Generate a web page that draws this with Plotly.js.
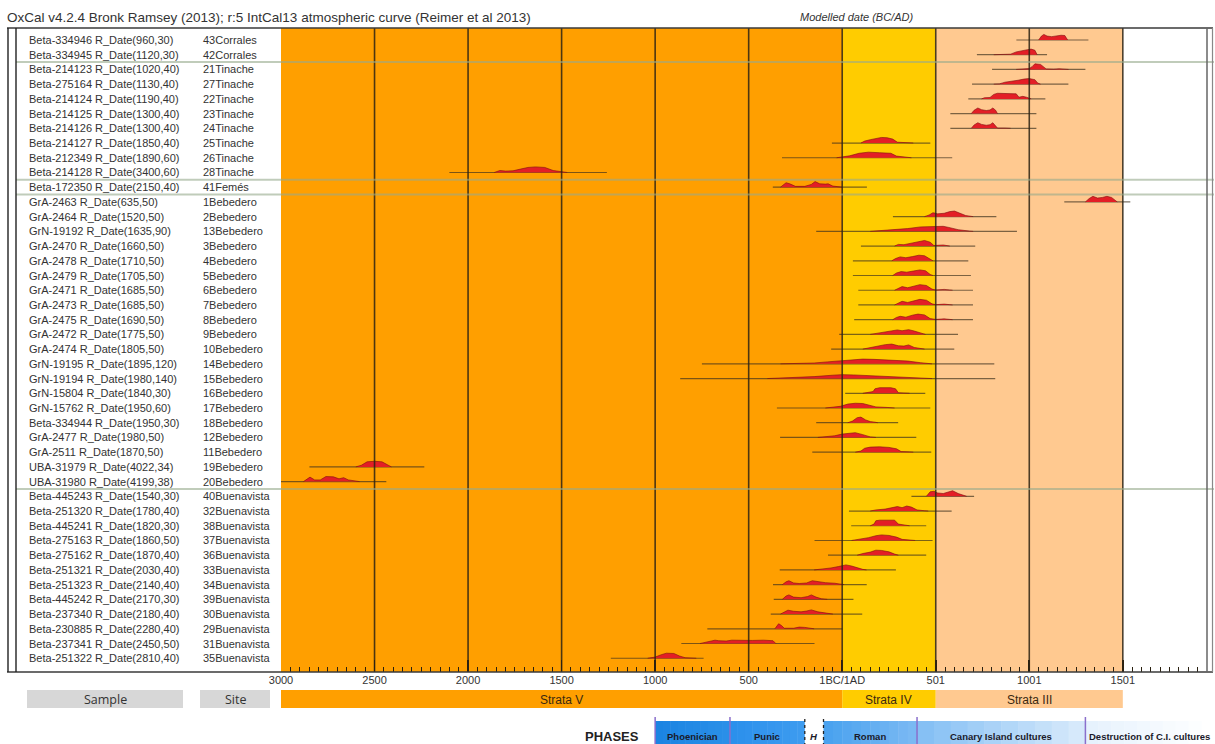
<!DOCTYPE html>
<html><head><meta charset="utf-8">
<script src="https://cdn.plot.ly/plotly-3.0.1.min.js"></script>
<style>html,body{margin:0;padding:0;background:#fff}#chart{width:1215px;height:744px}</style>
</head><body><div id="chart"></div>
<script>
// ---------------- DATA ----------------
const sampleLabels = [
"Beta-334946 R_Date(960,30)","Beta-334945 R_Date(1120,30)","Beta-214123 R_Date(1020,40)","Beta-275164 R_Date(1130,40)",
"Beta-214124 R_Date(1190,40)","Beta-214125 R_Date(1300,40)","Beta-214126 R_Date(1300,40)","Beta-214127 R_Date(1850,40)",
"Beta-212349 R_Date(1890,60)","Beta-214128 R_Date(3400,60)","Beta-172350 R_Date(2150,40)","GrA-2463 R_Date(635,50)",
"GrA-2464 R_Date(1520,50)","GrN-19192 R_Date(1635,90)","GrA-2470 R_Date(1660,50)","GrA-2478 R_Date(1710,50)",
"GrA-2479 R_Date(1705,50)","GrA-2471 R_Date(1685,50)","GrA-2473 R_Date(1685,50)","GrA-2475 R_Date(1690,50)",
"GrA-2472 R_Date(1775,50)","GrA-2474 R_Date(1805,50)","GrN-19195 R_Date(1895,120)","GrN-19194 R_Date(1980,140)",
"GrN-15804 R_Date(1840,30)","GrN-15762 R_Date(1950,60)","Beta-334944 R_Date(1950,30)","GrA-2477 R_Date(1980,50)",
"GrA-2511 R_Date(1870,50)","UBA-31979 R_Date(4022,34)","UBA-31980 R_Date(4199,38)","Beta-445243 R_Date(1540,30)",
"Beta-251320 R_Date(1780,40)","Beta-445241 R_Date(1820,30)","Beta-275163 R_Date(1860,50)","Beta-275162 R_Date(1870,40)",
"Beta-251321 R_Date(2030,40)","Beta-251323 R_Date(2140,40)","Beta-445242 R_Date(2170,30)","Beta-237340 R_Date(2180,40)",
"Beta-230885 R_Date(2280,40)","Beta-237341 R_Date(2450,50)","Beta-251322 R_Date(2810,40)"];
const siteLabels = [
"43Corrales","42Corrales","21Tinache","27Tinache","22Tinache","23Tinache","24Tinache","25Tinache","26Tinache","28Tinache",
"41Femés","1Bebedero","2Bebedero","13Bebedero","3Bebedero","4Bebedero","5Bebedero","6Bebedero","7Bebedero","8Bebedero",
"9Bebedero","10Bebedero","14Bebedero","15Bebedero","16Bebedero","17Bebedero","18Bebedero","12Bebedero","11Bebedero",
"19Bebedero","20Bebedero","40Buenavista","32Buenavista","38Buenavista","37Buenavista","36Buenavista","33Buenavista",
"34Buenavista","39Buenavista","30Buenavista","29Buenavista","31Buenavista","35Buenavista"];
// range brackets (calendar years, BC negative)
const rangeStart = [931,720,801,694,674,578,578,-55,-322,-2100,-371,1187,271,-139,100,57,57,86,86,64,-16,-59,-750,-866,16,-349,-139,-332,-160,-2848,-3040,370,36,48,-148,-76,-334,-370,-366,-382,-721,-860,-1237];
const rangeEnd   = [1316,1095,1300,1209,1086,1038,1038,471,588,-1258,132,1540,824,934,711,674,688,699,699,699,619,599,813,818,444,471,299,396,476,-2234,-2437,705,585,449,483,449,287,131,60,107,0,-148,-741];
// modelled distributions: years and relative heights
const distYears = [
[1050,1065,1078,1095,1120,1150,1170,1190,1205],
[810,850,900,930,960,990,1010,1030,1042],
[930,960,1000,1015,1030,1060,1075,1090,1130,1160,1190,1210],
[810,840,870,910,940,970,1000,1030,1045,1060],
[745,760,790,810,830,900,930,945,965,985,1000,1010],
[690,705,725,745,770,790,805,820,830],
[690,705,725,745,770,790,805,820,830,870,900],
[100,120,150,180,210,240,270,295,330,380],
[-30,0,40,90,140,200,260,290,330,370],
[-1860,-1830,-1800,-1760,-1720,-1680,-1640,-1590,-1545,-1500,-1470],
[-330,-300,-280,-250,-200,-165,-145,-120,-90,-75,-50,-10,0],
[1300,1320,1340,1365,1390,1415,1440,1460,1470],
[440,465,485,510,545,575,600,630,660,700],
[150,200,280,350,420,480,540,570,620,680,700],
[280,300,330,370,410,440,470,490,540,575],
[265,285,310,340,375,410,440,470,485],
[270,290,315,345,380,415,445,470,485],
[280,300,320,350,385,415,450,480,500,545,575,590],
[280,300,320,350,385,415,450,480,500,545,575,590],
[270,290,310,340,375,405,440,470,500,545,575,590],
[150,180,220,260,295,320,355,385,420,445],
[110,140,180,230,265,300,330,355,385,420,440],
[-330,-250,-150,-80,0,60,110,170,250,300,350,420,480],
[-400,-340,-250,-150,-50,0,60,150,250,350,450,480],
[110,140,165,175,200,260,285,300,340,360],
[-90,-50,-10,30,70,110,140,180,240,280],
[30,55,80,100,125,150,175,190],
[-130,-90,-40,0,40,70,110,150,180],
[70,100,120,150,200,250,290,315,360,380],
[-2600,-2570,-2540,-2500,-2460,-2430,-2410],
[-2880,-2845,-2820,-2790,-2760,-2720,-2690,-2665,-2640,-2600,-2580],
[450,470,490,510,540,565,590,620,650,665],
[150,180,230,270,295,320,345,370,400,440,460],
[150,170,180,200,280,300,340,360],
[50,90,140,180,210,250,290,320,370,390],
[80,110,150,180,210,250,280,300],
[-150,-100,-60,-20,20,50,80,110,130],
[-320,-300,-285,-260,-230,-190,-160,-130,-90,-40,-5,10],
[-320,-300,-285,-260,-220,-185,-165,-140,-110,-80],
[-330,-305,-290,-260,-220,-190,-165,-130,-90,-50],
[-360,-350,-340,-325,-310,-260,-230,-200,-170,-150],
[-760,-720,-680,-660,-620,-590,-540,-480,-420,-370,-355],
[-1040,-1000,-970,-940,-900,-870,-840,-800,-780]];
const distHeights = [
[0,0.7,1,0.7,0.6,0.75,0.85,0.8,0],
[0,0.08,0.1,0.5,0.75,0.9,1,0.8,0],
[0,0.12,0.15,0.5,1,0.9,0.5,0.1,0.05,0.12,0.05,0],
[0,0.05,0.35,0.5,0.7,0.9,1,0.8,0.2,0],
[0,0.2,0.25,0.8,1,1,0.9,0.3,0.45,0.3,0.05,0],
[0,0.6,1,0.7,0.55,0.65,1,0.6,0],
[0,0.6,1,0.7,0.55,0.65,1,0.5,0.05,0.05,0],
[0,0.35,0.6,0.85,1,0.95,0.7,0.15,0.05,0],
[0,0.1,0.35,0.8,1,0.9,0.8,0.3,0.1,0],
[0,0.35,0.25,0.3,0.6,0.9,1,0.9,0.35,0.1,0],
[0,0.8,0.6,0.15,0.15,0.5,1,0.6,0.55,0.6,0.2,0.05,0],
[0,0.6,1,0.7,0.8,1,0.8,0.2,0],
[0,0.3,0.7,0.5,0.6,0.9,1,0.6,0.2,0],
[0,0.1,0.3,0.5,0.8,0.85,0.9,0.7,0.3,0.05,0],
[0,0.3,0.25,0.55,0.9,1,0.7,0.1,0.2,0],
[0,0.4,0.7,0.55,0.75,1,0.9,0.2,0],
[0,0.45,0.7,0.6,0.8,1,0.85,0.2,0],
[0,0.4,0.65,0.45,0.8,1,0.85,0.2,0.05,0.15,0.05,0],
[0,0.4,0.65,0.45,0.8,1,0.85,0.2,0.05,0.15,0.05,0],
[0,0.4,0.6,0.45,0.8,1,0.85,0.2,0.05,0.15,0.05,0],
[0,0.15,0.35,0.55,0.8,0.65,0.85,0.6,0.2,0],
[0,0.2,0.55,0.8,0.9,0.6,0.55,0.75,0.3,0.1,0],
[0,0.05,0.15,0.35,0.6,0.8,0.85,0.8,0.65,0.6,0.5,0.2,0],
[0,0.08,0.15,0.35,0.6,0.7,0.65,0.5,0.35,0.15,0.05,0],
[0,0.1,0.3,0.8,1,1,0.8,0.1,0.05,0],
[0,0.1,0.3,0.7,0.85,0.8,0.5,0.2,0.1,0],
[0,0.3,0.9,1,0.5,0.2,0.1,0],
[0,0.1,0.3,0.6,0.8,0.85,0.5,0.1,0],
[0,0.2,0.7,0.9,0.95,0.85,0.6,0.1,0.05,0],
[0,0.3,0.9,1,0.9,0.3,0],
[0,0.8,0.3,0.3,0.9,0.85,0.5,0.7,0.3,0.05,0],
[0,0.8,0.9,0.6,0.5,0.8,1,0.5,0.1,0],
[0,0.2,0.35,0.6,0.8,0.6,0.9,0.7,0.2,0.05,0],
[0,0.3,0.9,1,1,0.3,0.1,0],
[0,0.2,0.5,0.85,1,0.9,0.6,0.2,0.1,0],
[0,0.3,0.55,0.9,0.85,0.6,0.2,0],
[0,0.15,0.35,0.6,0.9,0.7,0.35,0.1,0],
[0,0.5,0.7,0.3,0.2,0.3,0.7,0.5,0.35,0.25,0.05,0],
[0,0.6,0.8,0.4,0.3,0.5,0.8,0.4,0.1,0],
[0,0.5,0.7,0.5,0.4,0.55,0.75,0.4,0.15,0],
[0,0.4,0.9,0.6,0.1,0.1,0.3,0.25,0.15,0],
[0,0.3,0.6,0.5,0.45,0.6,0.55,0.55,0.6,0.5,0],
[0,0.2,0.6,0.9,0.85,0.4,0.1,0.05,0]];
const groupBreaks = [1.5, 9.5, 10.5, 30.5];
const tickYears = [-3000,-2500,-2000,-1500,-1000,-500,0,500,1000,1500];
const tickLabels = ["3000","2500","2000","1500","1000","500","1BC/1AD","501","1001","1501"];
const strataNames = ["Strata V","Strata IV","Strata III"];
const strataStart = [-3000,0,500];
const strataEnd = [0,500,1500];
const strataColors = ["#ff9f00","#ffcc00","#ffc990"];
const phaseNames = ["Phoenician","Punic","<i>H</i>","Roman","Canary Island cultures","Destruction of C.I. cultures"];
const phaseStart = [-1000,-600,-200,-100,400,1300];
const phaseEnd = [-600,-200,-100,400,1300,1990];
const phaseColorFrom = ["#1b84e2","#2b90ec","#ffffff","#4aa2ef","#86c0f4","#e6f2fd"];
const phaseColorTo   = ["#2a8fe8","#3d9bef","#ffffff","#7ab9f3","#d6e9fb","#ffffff"];

// ---------------- LAYOUT HELPERS ----------------
const W=1215,H=744,L=281,R=8,T=28,B=72;
const PW=W-L-R, PH=H-T-B;
const XR=[-3000,1950];
const YR=[42.935,-0.815];
const FONT="Liberation Sans, Arial, sans-serif";
const px=p=>(p-L)/PW;
const py=p=>(H-B-p)/PH;
const yp=yr=>(yr-XR[0])/(XR[1]-XR[0]);
const HSCALE=0.38;

const traces=[];
// range lines
const lx=[],ly=[];
rangeStart.forEach((s,i)=>{lx.push(s,rangeEnd[i],null);ly.push(i,i,null);});
traces.push({type:'scatter',mode:'lines',x:lx,y:ly,line:{color:'rgba(60,48,30,0.68)',width:1.2},hoverinfo:'skip',showlegend:false});
// distributions
distYears.forEach((xs,i)=>{
  traces.push({type:'scatter',mode:'lines',x:xs,y:distHeights[i].map(h=>i-h*HSCALE),fill:'toself',
    fillcolor:'#e31e26',line:{color:'#7d0d0d',width:0.6},hoverinfo:'skip',showlegend:false});
});

const shapes=[];
// background bands
strataStart.forEach((s,i)=>shapes.push({type:'rect',xref:'x',yref:'paper',x0:s,x1:strataEnd[i],y0:0,y1:1,fillcolor:strataColors[i],line:{width:0},layer:'below'}));
// vertical grid lines
tickYears.slice(1).forEach(t=>shapes.push({type:'line',xref:'x',yref:'paper',x0:t,x1:t,y0:0,y1:1,line:{color:'rgba(45,35,20,0.85)',width:1.6},layer:'above'}));
// group separators
groupBreaks.forEach(g=>shapes.push({type:'line',xref:'paper',yref:'y',x0:px(16),x1:px(1214),y0:g,y1:g,line:{color:'rgba(150,170,140,0.6)',width:2},layer:'above'}));
// frame
const frameCol='#3a3a3a';
shapes.push({type:'line',xref:'paper',yref:'paper',x0:px(7),x1:px(1213),y0:1,y1:1,line:{color:frameCol,width:1.6}});
shapes.push({type:'line',xref:'paper',yref:'paper',x0:px(7),x1:px(1213),y0:0,y1:0,line:{color:frameCol,width:1.6}});
[8,16].forEach(p=>shapes.push({type:'line',xref:'paper',yref:'paper',x0:px(p),x1:px(p),y0:0,y1:1,line:{color:'#222',width:1.4}}));
shapes.push({type:'line',xref:'paper',yref:'paper',x0:1,x1:1,y0:0,y1:1,line:{color:'#666',width:1.5}});
shapes.push({type:'line',xref:'paper',yref:'paper',x0:px(1212.5),x1:px(1212.5),y0:0,y1:1,line:{color:'#888',width:1.2}});
// bottom boxes
shapes.push({type:'rect',xref:'paper',yref:'paper',x0:px(27),x1:px(183),y0:py(708),y1:py(690),fillcolor:'#d7d7d7',line:{width:0}});
shapes.push({type:'rect',xref:'paper',yref:'paper',x0:px(200),x1:px(270),y0:py(708),y1:py(690),fillcolor:'#d7d7d7',line:{width:0}});
strataStart.forEach((s,i)=>shapes.push({type:'rect',xref:'paper',yref:'paper',x0:yp(s),x1:yp(strataEnd[i]),y0:py(708),y1:py(690),fillcolor:strataColors[i],line:{width:0}}));
// phases (gradient slices)
function mix(a,b,t){const pa=[1,3,5].map(k=>parseInt(a.substr(k,2),16)),pb=[1,3,5].map(k=>parseInt(b.substr(k,2),16));
  return 'rgb('+pa.map((v,k)=>Math.round(v+(pb[k]-v)*t)).join(',')+')';}
phaseStart.forEach((s,i)=>{
  const n=10, e=phaseEnd[i];
  for(let k=0;k<n;k++){
    const a=yp(s+(e-s)*k/n), b=yp(s+(e-s)*(k+1)/n);
    shapes.push({type:'rect',xref:'paper',yref:'paper',x0:a,x1:b+0.0005,y0:py(746),y1:py(721),fillcolor:mix(phaseColorFrom[i],phaseColorTo[i],k/(n-1)),line:{width:0}});
  }
});
[-1000,-600,400,1300].forEach(t=>shapes.push({type:'line',xref:'paper',yref:'paper',x0:yp(t),x1:yp(t),y0:py(746),y1:py(717),line:{color:'#8a6fcc',width:1.5}}));
[-200,-100].forEach(t=>shapes.push({type:'line',xref:'paper',yref:'paper',x0:yp(t),x1:yp(t),y0:py(746),y1:py(717),line:{color:'#222',width:1.3,dash:'dot'}}));

const annotations=[];
const ann=(o)=>annotations.push(Object.assign({xref:'paper',yref:'paper',xanchor:'center',yanchor:'middle',showarrow:false},o));
ann({x:px(5),y:py(17),xanchor:'left',
  text:'OxCal v4.2.4 Bronk Ramsey (2013); r:5 IntCal13 atmospheric curve (Reimer et al 2013)',font:{family:FONT,size:13.5,color:'#333'}});
ann({x:px(856),y:py(17),text:'<i>Modelled date (BC/AD)</i>',font:{family:FONT,size:11,color:'#333'}});
sampleLabels.forEach((s,i)=>{
  ann({yref:'y',x:px(27),y:i,xanchor:'left',text:s,font:{family:FONT,size:11,color:'#333'}});
  ann({yref:'y',x:px(201),y:i,xanchor:'left',text:siteLabels[i],font:{family:FONT,size:11,color:'#333'}});
});
ann({x:px(105),y:py(699.5),text:'Sample',font:{family:'Open Sans, '+FONT,size:12.5,color:'#333'}});
ann({x:px(235),y:py(699.5),text:'Site',font:{family:'Open Sans, '+FONT,size:12.5,color:'#333'}});
strataNames.forEach((n,i)=>ann({x:(yp(strataStart[i])+yp(strataEnd[i]))/2,y:py(699.5),text:n,font:{family:FONT,size:12,color:'#3a2a10'}}));
ann({x:px(612),y:py(736),text:'<b>PHASES</b>',font:{family:FONT,size:13,color:'#222'}});
phaseNames.forEach((n,i)=>ann({x:(yp(phaseStart[i])+yp(phaseEnd[i]))/2,y:py(736),text:'<b>'+n+'</b>',font:{family:FONT,size:9.5,color:'#1a1a2a'}}));

const layout={
  width:W,height:H,margin:{l:L,r:R,t:T,b:B},paper_bgcolor:'#fff',plot_bgcolor:'#fff',showlegend:false,
  xaxis:{range:XR,showgrid:false,zeroline:false,showline:false,tickmode:'array',tickvals:tickYears,ticktext:tickLabels,
    ticks:'inside',ticklen:12,tickwidth:1.6,tickcolor:'#2a2010',tickfont:{family:FONT,size:11,color:'#333'},
    minor:{tick0:-3000,dtick:50,ticks:'inside',ticklen:5,tickwidth:1,tickcolor:'#2a2010',showgrid:false}},
  yaxis:{range:YR,showgrid:false,zeroline:false,showticklabels:false,ticks:'',showline:false},
  shapes:shapes,annotations:annotations
};
Plotly.newPlot('chart',traces,layout,{displayModeBar:false,staticPlot:true});
</script></body></html>
